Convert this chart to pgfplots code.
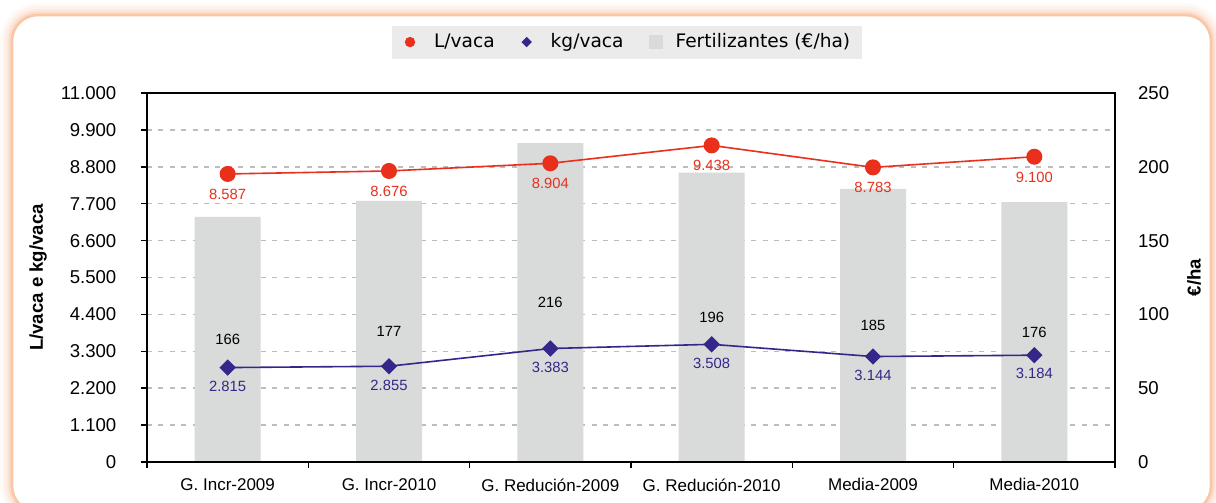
\documentclass[border=0pt]{standalone}
\usepackage{pgfplots}
\pgfplotsset{compat=1.18}
\usepackage{pgfplotstable}
\usepackage{fontspec}
\setmainfont{Liberation Sans}
\newfontfamily\legfont{DejaVu Sans}
\definecolor{lred}{HTML}{E8301C}
\definecolor{lblue}{HTML}{33278A}
\definecolor{barc}{HTML}{D9DADA}
\definecolor{gridc}{HTML}{BDBDBD}
\definecolor{frameor}{HTML}{F7B48A}
\definecolor{legbg}{HTML}{EBEBEB}

\pgfplotstableread{
x fert lvaca kgvaca
0 166 8587 2815
1 177 8676 2855
2 216 8904 3383
3 196 9438 3508
4 185 8783 3144
5 176 9100 3184
}\datatable

\tikzset{lab/.style={font=\fontsize{7.4}{9}\selectfont}}
\pgfplotsset{
  /pgf/number format/assume math mode=true,
  /pgf/number format/1000 sep={.},
  base/.style={
    scale only axis, width=484pt, height=184.5pt,
    at={(73.5pt,-231pt)}, anchor=south west,
    xmin=-0.5, xmax=5.5,
    font=\fontsize{9.3}{11}\selectfont,
    axis line style={line width=0.75pt, black},
    scaled y ticks=false,
  },
}

\begin{document}
\begin{tikzpicture}
\useasboundingbox (0,0) rectangle (608pt,-251.5pt);
\begin{scope}
\clip (0,0) rectangle (608pt,-251.5pt);
\foreach \w/\o in {12pt/0.07, 9pt/0.1, 6pt/0.15, 3.5pt/0.25}{
  \draw[frameor, line width=\w, opacity=\o, rounded corners=13pt] (6pt,-7.5pt) rectangle (605.5pt,-256pt);
}
\fill[white, rounded corners=13pt] (6pt,-7.5pt) rectangle (605.5pt,-256pt);
\draw[frameor!75, line width=1.3pt, rounded corners=13pt] (6pt,-7.5pt) rectangle (605.5pt,-256pt);
\end{scope}

% Axis A: left axis, grid, x labels
\begin{axis}[base,
  ymin=0, ymax=11000,
  axis x line*=bottom, axis y line*=left,
  ytick={0,1100,2200,3300,4400,5500,6600,7700,8800,9900,11000},
  yticklabel style={/pgf/number format/fixed, xshift=-9pt},
  ymajorgrids,
  grid style={gridc, line width=0.75pt, dash pattern=on 2.5pt off 3.2pt},
  tick align=outside, major tick length=2.8pt,
  tick style={black, line width=0.75pt},
  xtick={-0.5,0.5,1.5,2.5,3.5,4.5,5.5},
  x tick label as interval,
  xticklabels={G. Incr-2009, G. Incr-2010, G. Redución-2009, G. Redución-2010, Media-2009, Media-2010},
  xticklabel style={font=\fontsize{8.5}{10}\selectfont, yshift=-2pt},
  every axis y label/.style={at={(rel axis cs:0,0.5)}, xshift=-54.5pt, anchor=center, rotate=90},
  ylabel={\bfseries L/vaca e kg/vaca},
]
\addplot[draw=none, forget plot] coordinates {(0,0)};
\end{axis}

% Axis B: bars, right axis
\begin{axis}[base,
  ymin=0, ymax=250,
  axis on top,
  ytick={0,50,100,150,200,250},
  yticklabel pos=right,
  ytick style={draw=none},
  yticklabel style={xshift=8pt},
  xtick=\empty,
  every axis y label/.style={at={(rel axis cs:1,0.5)}, xshift=39.5pt, anchor=center, rotate=90},
  ylabel={\bfseries €/ha},
]
\addplot[ybar, bar width=33pt, fill=barc, draw=none] table[x=x, y=fert]{\datatable};
\addplot[draw=none, mark=none, nodes near coords, point meta=explicit,
  every node near coord/.style={anchor=center, lab, text=black}]
  table[x=x, y expr=\thisrow{fert}/2, meta=fert]{\datatable};
\end{axis}

% Axis C: lines
\begin{axis}[base,
  ymin=0, ymax=11000,
  hide axis,
  legend style={at={(0.496,1.138)}, anchor=center, fill=legbg, draw=none,
    legend columns=3, font=\legfont\fontsize{9.3}{11}\selectfont,
    /tikz/every even column/.append style={column sep=9pt},
    inner xsep=4pt, inner ysep=2pt},
  legend cell align=left,
]
\addplot[forget plot, lred, line width=0.8pt, mark=*, mark size=3.6pt,
  nodes near coords,
  every node near coord/.style={anchor=north, yshift=-3.8pt, lab, text=lred}]
  table[x=x, y=lvaca]{\datatable};
\addplot[forget plot, lblue, line width=0.8pt, mark=square*, mark size=2.5pt, mark options={rotate=45},
  nodes near coords,
  every node near coord/.style={anchor=north, yshift=-3pt, lab, text=lblue}]
  table[x=x, y=kgvaca]{\datatable};
\addlegendimage{legend image code/.code={\fill[lred, draw=none] (0pt,0pt) circle (2.6pt); \path[draw=none, fill=none] (-5pt,-3pt) rectangle (10pt,3pt);}}
\addlegendentry{L/vaca}
\addlegendimage{legend image code/.code={\fill[lblue, draw=none] (0pt,2.6pt) -- (2.6pt,0pt) -- (0pt,-2.6pt) -- (-2.6pt,0pt) -- cycle; \path[draw=none, fill=none] (-5pt,-3pt) rectangle (10pt,3pt);}}
\addlegendentry{kg/vaca}
\addlegendimage{legend image code/.code={\fill[barc, draw=none] (-3.5pt,-3.5pt) rectangle (3.5pt,3.5pt); \path[draw=none, fill=none] (-5pt,-3pt) rectangle (8pt,3pt);}}
\addlegendentry{Fertilizantes (€/ha)}
\end{axis}
\end{tikzpicture}
\end{document}
